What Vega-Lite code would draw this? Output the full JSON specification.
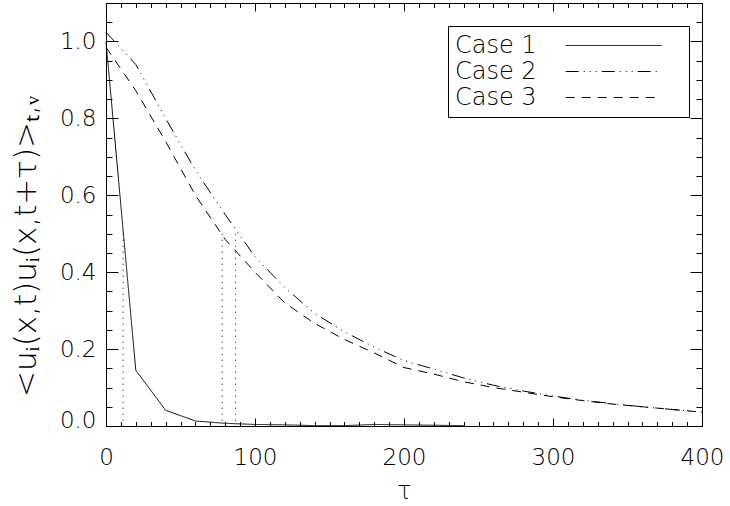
{
  "$schema": "https://vega.github.io/schema/vega-lite/v6.json",
  "width": 596,
  "height": 423,
  "autosize": "none",
  "padding": {"left": 106, "top": 3, "right": 28, "bottom": 80},
  "background": "white",
  "config": {
    "view": {"stroke": null},
    "axis": {
      "grid": false,
      "domainColor": "black",
      "domainWidth": 1,
      "tickColor": "black",
      "tickWidth": 1,
      "labelColor": "black",
      "labelFont": "DejaVu Sans",
      "labelFontSize": 23,
      "labelFontWeight": 200,
      "titleColor": "black",
      "titleFont": "DejaVu Sans",
      "titleFontWeight": 200
    },
    "legend": {
      "labelFont": "DejaVu Sans",
      "labelFontSize": 24,
      "labelFontWeight": 200,
      "labelColor": "black"
    }
  },
  "datasets": {
    "curves": [
      {"case": "Case 1", "tau": 0, "value": 1.0},
      {"case": "Case 1", "tau": 20, "value": 0.145},
      {"case": "Case 1", "tau": 40, "value": 0.041},
      {"case": "Case 1", "tau": 60, "value": 0.013},
      {"case": "Case 1", "tau": 80, "value": 0.007},
      {"case": "Case 1", "tau": 100, "value": 0.004},
      {"case": "Case 1", "tau": 120, "value": 0.003},
      {"case": "Case 1", "tau": 140, "value": 0.001},
      {"case": "Case 1", "tau": 160, "value": 0.001},
      {"case": "Case 1", "tau": 180, "value": 0.004},
      {"case": "Case 1", "tau": 200, "value": 0.003},
      {"case": "Case 1", "tau": 220, "value": 0.002},
      {"case": "Case 1", "tau": 240, "value": 0.001},
      {"case": "Case 2", "tau": 0, "value": 1.024},
      {"case": "Case 2", "tau": 20, "value": 0.94},
      {"case": "Case 2", "tau": 40, "value": 0.80},
      {"case": "Case 2", "tau": 60, "value": 0.665},
      {"case": "Case 2", "tau": 80, "value": 0.55},
      {"case": "Case 2", "tau": 100, "value": 0.44},
      {"case": "Case 2", "tau": 120, "value": 0.36},
      {"case": "Case 2", "tau": 140, "value": 0.293},
      {"case": "Case 2", "tau": 160, "value": 0.245},
      {"case": "Case 2", "tau": 180, "value": 0.205},
      {"case": "Case 2", "tau": 200, "value": 0.17},
      {"case": "Case 2", "tau": 220, "value": 0.148},
      {"case": "Case 2", "tau": 240, "value": 0.125},
      {"case": "Case 2", "tau": 260, "value": 0.106},
      {"case": "Case 2", "tau": 280, "value": 0.091},
      {"case": "Case 2", "tau": 300, "value": 0.078},
      {"case": "Case 2", "tau": 320, "value": 0.067},
      {"case": "Case 2", "tau": 340, "value": 0.058},
      {"case": "Case 2", "tau": 360, "value": 0.05},
      {"case": "Case 2", "tau": 380, "value": 0.043},
      {"case": "Case 2", "tau": 400, "value": 0.036},
      {"case": "Case 3", "tau": 0, "value": 0.985},
      {"case": "Case 3", "tau": 20, "value": 0.872},
      {"case": "Case 3", "tau": 40, "value": 0.74},
      {"case": "Case 3", "tau": 60, "value": 0.60},
      {"case": "Case 3", "tau": 80, "value": 0.485},
      {"case": "Case 3", "tau": 100, "value": 0.40},
      {"case": "Case 3", "tau": 120, "value": 0.32},
      {"case": "Case 3", "tau": 140, "value": 0.267},
      {"case": "Case 3", "tau": 160, "value": 0.225},
      {"case": "Case 3", "tau": 180, "value": 0.19},
      {"case": "Case 3", "tau": 200, "value": 0.152},
      {"case": "Case 3", "tau": 220, "value": 0.135},
      {"case": "Case 3", "tau": 240, "value": 0.115},
      {"case": "Case 3", "tau": 260, "value": 0.10},
      {"case": "Case 3", "tau": 280, "value": 0.088},
      {"case": "Case 3", "tau": 300, "value": 0.076},
      {"case": "Case 3", "tau": 320, "value": 0.066},
      {"case": "Case 3", "tau": 340, "value": 0.057},
      {"case": "Case 3", "tau": 360, "value": 0.05},
      {"case": "Case 3", "tau": 380, "value": 0.043},
      {"case": "Case 3", "tau": 400, "value": 0.036}
    ],
    "halfLevels": [
      {"tau": 11.5, "level": 0.5},
      {"tau": 78, "level": 0.5},
      {"tau": 87, "level": 0.5}
    ]
  },
  "resolve": {"axis": {"x": "independent", "y": "independent"}},
  "layer": [
    {
      "data": {"name": "curves"},
      "mark": {"type": "line", "color": "black", "strokeWidth": 1},
      "encoding": {
        "x": {
          "field": "tau", "type": "quantitative",
          "scale": {"domain": [0, 400], "nice": false, "zero": false},
          "axis": {
            "orient": "bottom", "values": [0, 100, 200, 300, 400],
            "tickSize": -8, "labelPadding": 28.6, "format": "d", "labelFlush": false,
            "title": "τ", "titleFontSize": 24, "titleX": 298, "titleY": 72,
            "titleBaseline": "alphabetic", "titleAlign": "center", "titleAnchor": null
          }
        },
        "y": {
          "field": "value", "type": "quantitative",
          "scale": {"domain": [0, 1.1], "nice": false, "zero": false},
          "axis": {
            "orient": "left", "values": [0, 0.2, 0.4, 0.6, 0.8, 1.0],
            "tickSize": -12, "labelPadding": 22, "format": ".1f",
            "labelFlush": true, "labelFlushOffset": 6,
            "title": "<uᵢ(x,t)uᵢ(x,t+τ)>ₜ,ᵥ", "titleFontSize": 31,
            "titleX": -71, "titleY": 243, "titleAngle": 270,
            "titleBaseline": "alphabetic", "titleAlign": "center", "titleAnchor": null
          }
        },
        "detail": {"field": "case", "type": "nominal"},
        "strokeDash": {
          "field": "case", "type": "nominal",
          "scale": {
            "domain": ["Case 1", "Case 2", "Case 3"],
            "range": [[1, 0], [13, 5, 1, 5, 1, 5, 1, 5], [9, 7]]
          },
          "legend": {
            "orient": "none", "legendX": 342, "legendY": 23,
            "title": null,
            "symbolType": "M-4,0H4M5.5,0", "symbolSize": 576,
            "symbolStrokeWidth": 1, "symbolStrokeColor": "black",
            "symbolFillColor": "transparent",
            "labelOffset": -171.2, "symbolOffset": 146.2,
            "rowPadding": 1,
            "padding": 7,
            "strokeColor": "black", "fillColor": "white"
          }
        }
      }
    },
    {
      "data": {"name": "halfLevels"},
      "mark": {"type": "rule", "color": "black", "strokeWidth": 1, "strokeDash": [1, 5]},
      "encoding": {
        "x": {
          "field": "tau", "type": "quantitative",
          "scale": {"domain": [0, 400], "nice": false, "zero": false},
          "axis": {
            "orient": "bottom",
            "values": [0,10,20,30,40,50,60,70,80,90,100,110,120,130,140,150,160,170,180,190,200,210,220,230,240,250,260,270,280,290,300,310,320,330,340,350,360,370,380,390,400],
            "tickSize": -4.5, "labels": false, "domain": false, "title": null
          }
        },
        "y": {
          "field": "level", "type": "quantitative",
          "scale": {"domain": [0, 1.1], "nice": false, "zero": false},
          "axis": {
            "orient": "left",
            "values": [0,0.05,0.1,0.15,0.2,0.25,0.3,0.35,0.4,0.45,0.5,0.55,0.6,0.65,0.7,0.75,0.8,0.85,0.9,0.95,1.0,1.05,1.1],
            "tickSize": -6, "labels": false, "domain": false, "title": null
          }
        },
        "y2": {"datum": 0}
      }
    },
    {
      "data": {"name": "halfLevels"},
      "mark": {"type": "point", "opacity": 0},
      "encoding": {
        "x": {
          "field": "tau", "type": "quantitative",
          "scale": {"domain": [0, 400], "nice": false, "zero": false},
          "axis": {"orient": "top", "values": [0, 100, 200, 300, 400], "tickSize": -8, "labels": false, "title": null}
        },
        "y": {
          "field": "level", "type": "quantitative",
          "scale": {"domain": [0, 1.1], "nice": false, "zero": false},
          "axis": {"orient": "right", "values": [0, 0.2, 0.4, 0.6, 0.8, 1.0], "tickSize": -12, "labels": false, "title": null}
        }
      }
    },
    {
      "data": {"name": "halfLevels"},
      "mark": {"type": "point", "opacity": 0},
      "encoding": {
        "x": {
          "field": "tau", "type": "quantitative",
          "scale": {"domain": [0, 400], "nice": false, "zero": false},
          "axis": {
            "orient": "top",
            "values": [0,10,20,30,40,50,60,70,80,90,100,110,120,130,140,150,160,170,180,190,200,210,220,230,240,250,260,270,280,290,300,310,320,330,340,350,360,370,380,390,400],
            "tickSize": -4.5, "labels": false, "domain": false, "title": null
          }
        },
        "y": {
          "field": "level", "type": "quantitative",
          "scale": {"domain": [0, 1.1], "nice": false, "zero": false},
          "axis": {
            "orient": "right",
            "values": [0,0.05,0.1,0.15,0.2,0.25,0.3,0.35,0.4,0.45,0.5,0.55,0.6,0.65,0.7,0.75,0.8,0.85,0.9,0.95,1.0,1.05,1.1],
            "tickSize": -6, "labels": false, "domain": false, "title": null
          }
        }
      }
    }
  ]
}
